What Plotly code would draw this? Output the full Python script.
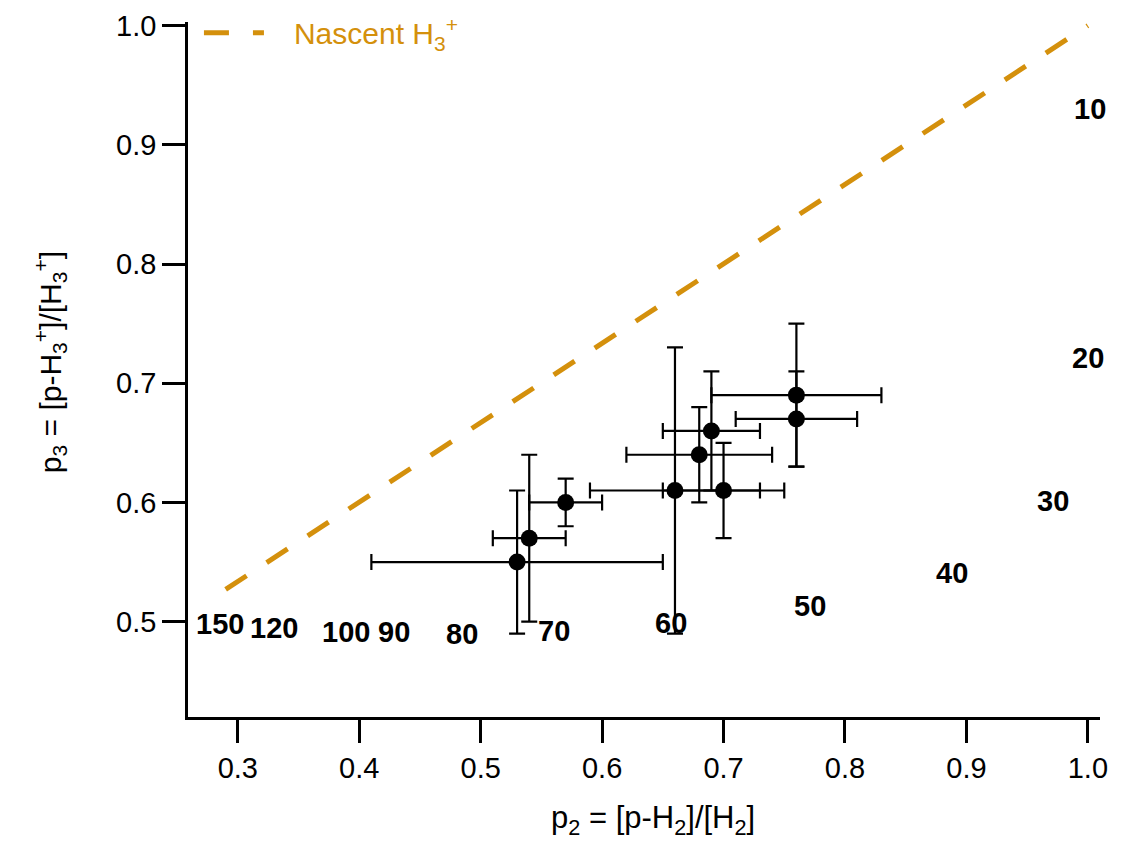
import plotly.graph_objects as go

# Measured points
p2 = [0.53, 0.54, 0.57, 0.66, 0.70, 0.68, 0.69, 0.76, 0.76]
p3 = [0.55, 0.57, 0.60, 0.61, 0.61, 0.64, 0.66, 0.69, 0.67]
p2_err = [0.12, 0.03, 0.03, 0.07, 0.05, 0.06, 0.04, 0.07, 0.05]
p3_err = [0.06, 0.07, 0.02, 0.12, 0.04, 0.04, 0.05, 0.06, 0.04]

# Nascent H3+ line
nascent_p2 = [0.29, 1.0]
nascent_p3 = [0.527, 1.0]

# Temperature labels
label_text = ["10", "20", "30", "40", "50", "60", "70", "80", "90", "100", "120", "150"]
label_p2 = [1.002, 1.000, 0.971, 0.888, 0.771, 0.657, 0.560, 0.485, 0.429, 0.389, 0.330, 0.285]
label_p3 = [0.930, 0.721, 0.601, 0.541, 0.513, 0.499, 0.492, 0.490, 0.491, 0.491, 0.495, 0.498]

x_ticks = [0.3, 0.4, 0.5, 0.6, 0.7, 0.8, 0.9, 1.0]
y_ticks = [0.5, 0.6, 0.7, 0.8, 0.9, 1.0]

x_title = "p<sub>2</sub> = [p-H<sub>2</sub>]/[H<sub>2</sub>]"
y_title = "p<sub>3</sub> = [p-H<sub>3</sub><sup>+</sup>]/[H<sub>3</sub><sup>+</sup>]"

ORANGE = "#D4900C"
FONT = "Liberation Sans, Arial, sans-serif"
NBSP = "\u00a0"

fig = go.Figure()

fig.add_trace(go.Scatter(
    x=nascent_p2, y=nascent_p3, mode="lines",
    name=NBSP * 3 + "Nascent H<sub>3</sub><sup>+</sup>",
    line=dict(color=ORANGE, width=5, dash="25px,24px"),
))

fig.add_trace(go.Scatter(
    x=p2, y=p3, mode="markers", showlegend=False,
    marker=dict(color="black", size=17),
    error_x=dict(type="data", array=p2_err, color="black", thickness=2.2, width=8),
    error_y=dict(type="data", array=p3_err, color="black", thickness=2.2, width=8),
))

for t, x, y in zip(label_text, label_p2, label_p3):
    fig.add_annotation(x=x, y=y, text="<b>%s</b>" % t, showarrow=False,
                       font=dict(family=FONT, size=29, color="black"),
                       xanchor="center", yanchor="middle")

# Axis titles
fig.add_annotation(xref="paper", yref="paper", x=0.51, y=-0.148,
                   text=x_title, showarrow=False,
                   font=dict(family=FONT, size=31, color="black"),
                   xanchor="center", yanchor="middle")
fig.add_annotation(xref="paper", yref="paper", x=-0.151, y=0.511,
                   text=y_title, showarrow=False, textangle=-90,
                   font=dict(family=FONT, size=30, color="black"),
                   xanchor="center", yanchor="middle")

fig.update_layout(
    width=1126, height=842,
    margin=dict(l=188, r=26, t=22, b=125, autoexpand=False),
    plot_bgcolor="white", paper_bgcolor="white",
    font=dict(family=FONT, size=29, color="black"),
    showlegend=True,
    legend=dict(x=0.012, y=1.022, xanchor="left", yanchor="top",
                bgcolor="rgba(0,0,0,0)",
                font=dict(family=FONT, size=30, color=ORANGE),
                itemwidth=60),
    xaxis=dict(
        range=[0.259, 1.01], tickvals=x_ticks,
        ticktext=["%.1f" % v for v in x_ticks],
        showgrid=False, zeroline=False, automargin=False,
        showline=True, linecolor="black", linewidth=2.5,
        ticks="outside", ticklen=23, tickwidth=2.5, tickcolor="black",
        tickfont=dict(size=29),
    ),
    yaxis=dict(
        range=[0.42, 1.003], tickvals=y_ticks,
        ticktext=["%.1f" % v for v in y_ticks],
        showgrid=False, zeroline=False, automargin=False,
        showline=True, linecolor="black", linewidth=2.5,
        ticks="outside", ticklen=23, tickwidth=2.5, tickcolor="black",
        tickfont=dict(size=29),
    ),
)

fig.write_html("out.html")
